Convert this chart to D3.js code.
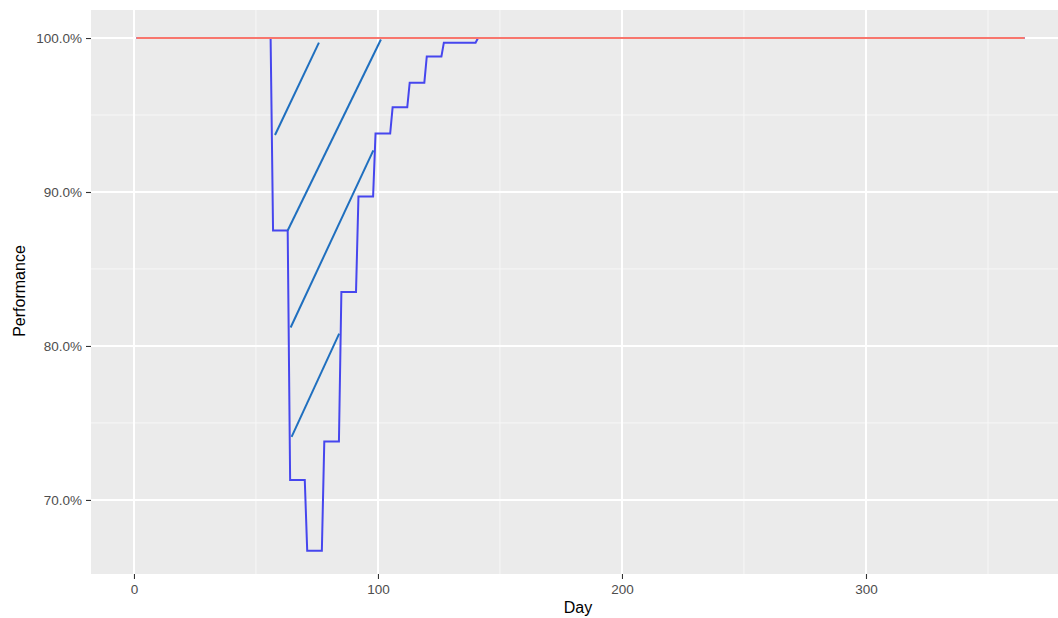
<!DOCTYPE html>
<html>
<head>
<meta charset="utf-8">
<script src="https://cdn.jsdelivr.net/npm/d3@7"></script>
<style>
  body { margin: 0; background: #fff; }
  text { font-family: "Liberation Sans", Arial, sans-serif; }
</style>
</head>
<body>
<svg id="chart" width="1058" height="618"></svg>
<script>
// data
var stepDays = [1, 56, 57, 63, 64, 70, 71, 77, 78, 84, 85, 91, 92, 98, 99, 105, 106, 112, 113, 119, 120, 126, 127, 140, 141, 365]
var stepPerf = [100, 100, 87.5, 87.5, 71.3, 71.3, 66.7, 66.7, 73.8, 73.8, 83.5, 83.5, 89.7, 89.7, 93.8, 93.8, 95.5, 95.5, 97.1, 97.1, 98.8, 98.8, 99.7, 99.7, 100, 100]

var refDays = [1, 365]
var refPerf = [100, 100]

// the four sloped segments
var segStartDay = [57.8, 63, 64.2, 64.6]
var segStartPerf = [93.7, 87.5, 81.2, 74.1]
var segEndDay = [75.8, 101.2, 98.1, 84.1]
var segEndPerf = [99.7, 99.9, 92.7, 80.8]

var xTicks = [0, 100, 200, 300]
var xMinor = [50, 150, 250, 350]
var yTicks = [70, 80, 90, 100]
var yMinor = [75, 85, 95]

var svg = d3.select("#chart")

// panel bounds (note: "top" is taken by window.top, so panelTop)
var panelLeft = 91, panelTop = 10, panelBottom = 574, panelRight = 1069

var x = d3.scaleLinear().domain([-17.2, 383.2]).range([92, 1069])
var y = d3.scaleLinear().domain([65.19, 101.82]).range([panelBottom, panelTop])

// grey panel
svg.append("rect")
  .attr("x", panelLeft)
  .attr("y", panelTop)
  .attr("width", panelRight - panelLeft)
  .attr("height", panelBottom - panelTop)
  .style("fill", "#ebebeb")

// minor grid
svg.selectAll(".xminor").data(xMinor).enter().append("line")
  .attr("x1", d => x(d)).attr("x2", d => x(d))
  .attr("y1", panelTop).attr("y2", panelBottom)
  .style("stroke", "#f7f7f7").style("stroke-width", 1)
svg.selectAll(".yminor").data(yMinor).enter().append("line")
  .attr("x1", panelLeft).attr("x2", panelRight)
  .attr("y1", d => y(d)).attr("y2", d => y(d))
  .style("stroke", "#f7f7f7").style("stroke-width", 1)

// major grid
svg.selectAll(".xmajor").data(xTicks).enter().append("line")
  .attr("x1", d => x(d)).attr("x2", d => x(d))
  .attr("y1", panelTop).attr("y2", panelBottom)
  .style("stroke", "#ffffff").style("stroke-width", 2)
svg.selectAll(".ymajor").data(yTicks).enter().append("line")
  .attr("x1", panelLeft).attr("x2", panelRight)
  .attr("y1", d => y(d)).attr("y2", d => y(d))
  .style("stroke", "#ffffff").style("stroke-width", 2)

// blue step line
var stepData = stepDays.map((d, i) => [d, stepPerf[i]])
var line = d3.line().x(d => x(d[0])).y(d => y(d[1]))
svg.append("path")
  .datum(stepData)
  .attr("d", line)
  .style("fill", "none")
  .style("stroke", "#4646ee")
  .style("stroke-width", 2)

// sloped segments
svg.selectAll(".seg").data(segStartDay).enter().append("line")
  .attr("x1", (d, i) => x(segStartDay[i]))
  .attr("y1", (d, i) => y(segStartPerf[i]))
  .attr("x2", (d, i) => x(segEndDay[i]))
  .attr("y2", (d, i) => y(segEndPerf[i]))
  .style("stroke", "#1f6fbf")
  .style("stroke-width", 2)

// red reference line
svg.append("path")
  .datum(refDays.map((d, i) => [d, refPerf[i]]))
  .attr("d", line)
  .style("fill", "none")
  .style("stroke", "#f8766d")
  .style("stroke-width", 2)

// x axis
var xAxis = svg.append("g")
  .attr("transform", "translate(0," + panelBottom + ")")
  .call(d3.axisBottom(x).tickValues(xTicks).tickSize(5).tickPadding(5).tickFormat(d3.format("d")))
xAxis.select(".domain").remove()
xAxis.selectAll("line").style("stroke", "#333333").style("stroke-width", 1.1)
xAxis.selectAll("text").style("fill", "#4d4d4d").style("font-size", "13.5px")

// y axis
var yAxis = svg.append("g")
  .attr("transform", "translate(" + panelLeft + ",0)")
  .call(d3.axisLeft(y).tickValues(yTicks).tickSize(5).tickPadding(4).tickFormat(d => d.toFixed(1) + "%"))
yAxis.select(".domain").remove()
yAxis.selectAll("line").style("stroke", "#333333").style("stroke-width", 1.1)
yAxis.selectAll("text").style("fill", "#4d4d4d").style("font-size", "13.5px")

// axis titles
svg.append("text")
  .attr("x", 578)
  .attr("y", 613)
  .attr("text-anchor", "middle")
  .style("font-size", "16px")
  .style("fill", "#000")
  .text("Day")

svg.append("text")
  .attr("transform", "translate(25,291) rotate(-90)")
  .attr("text-anchor", "middle")
  .style("font-size", "16px")
  .style("fill", "#000")
  .text("Performance")
</script>
</body>
</html>
